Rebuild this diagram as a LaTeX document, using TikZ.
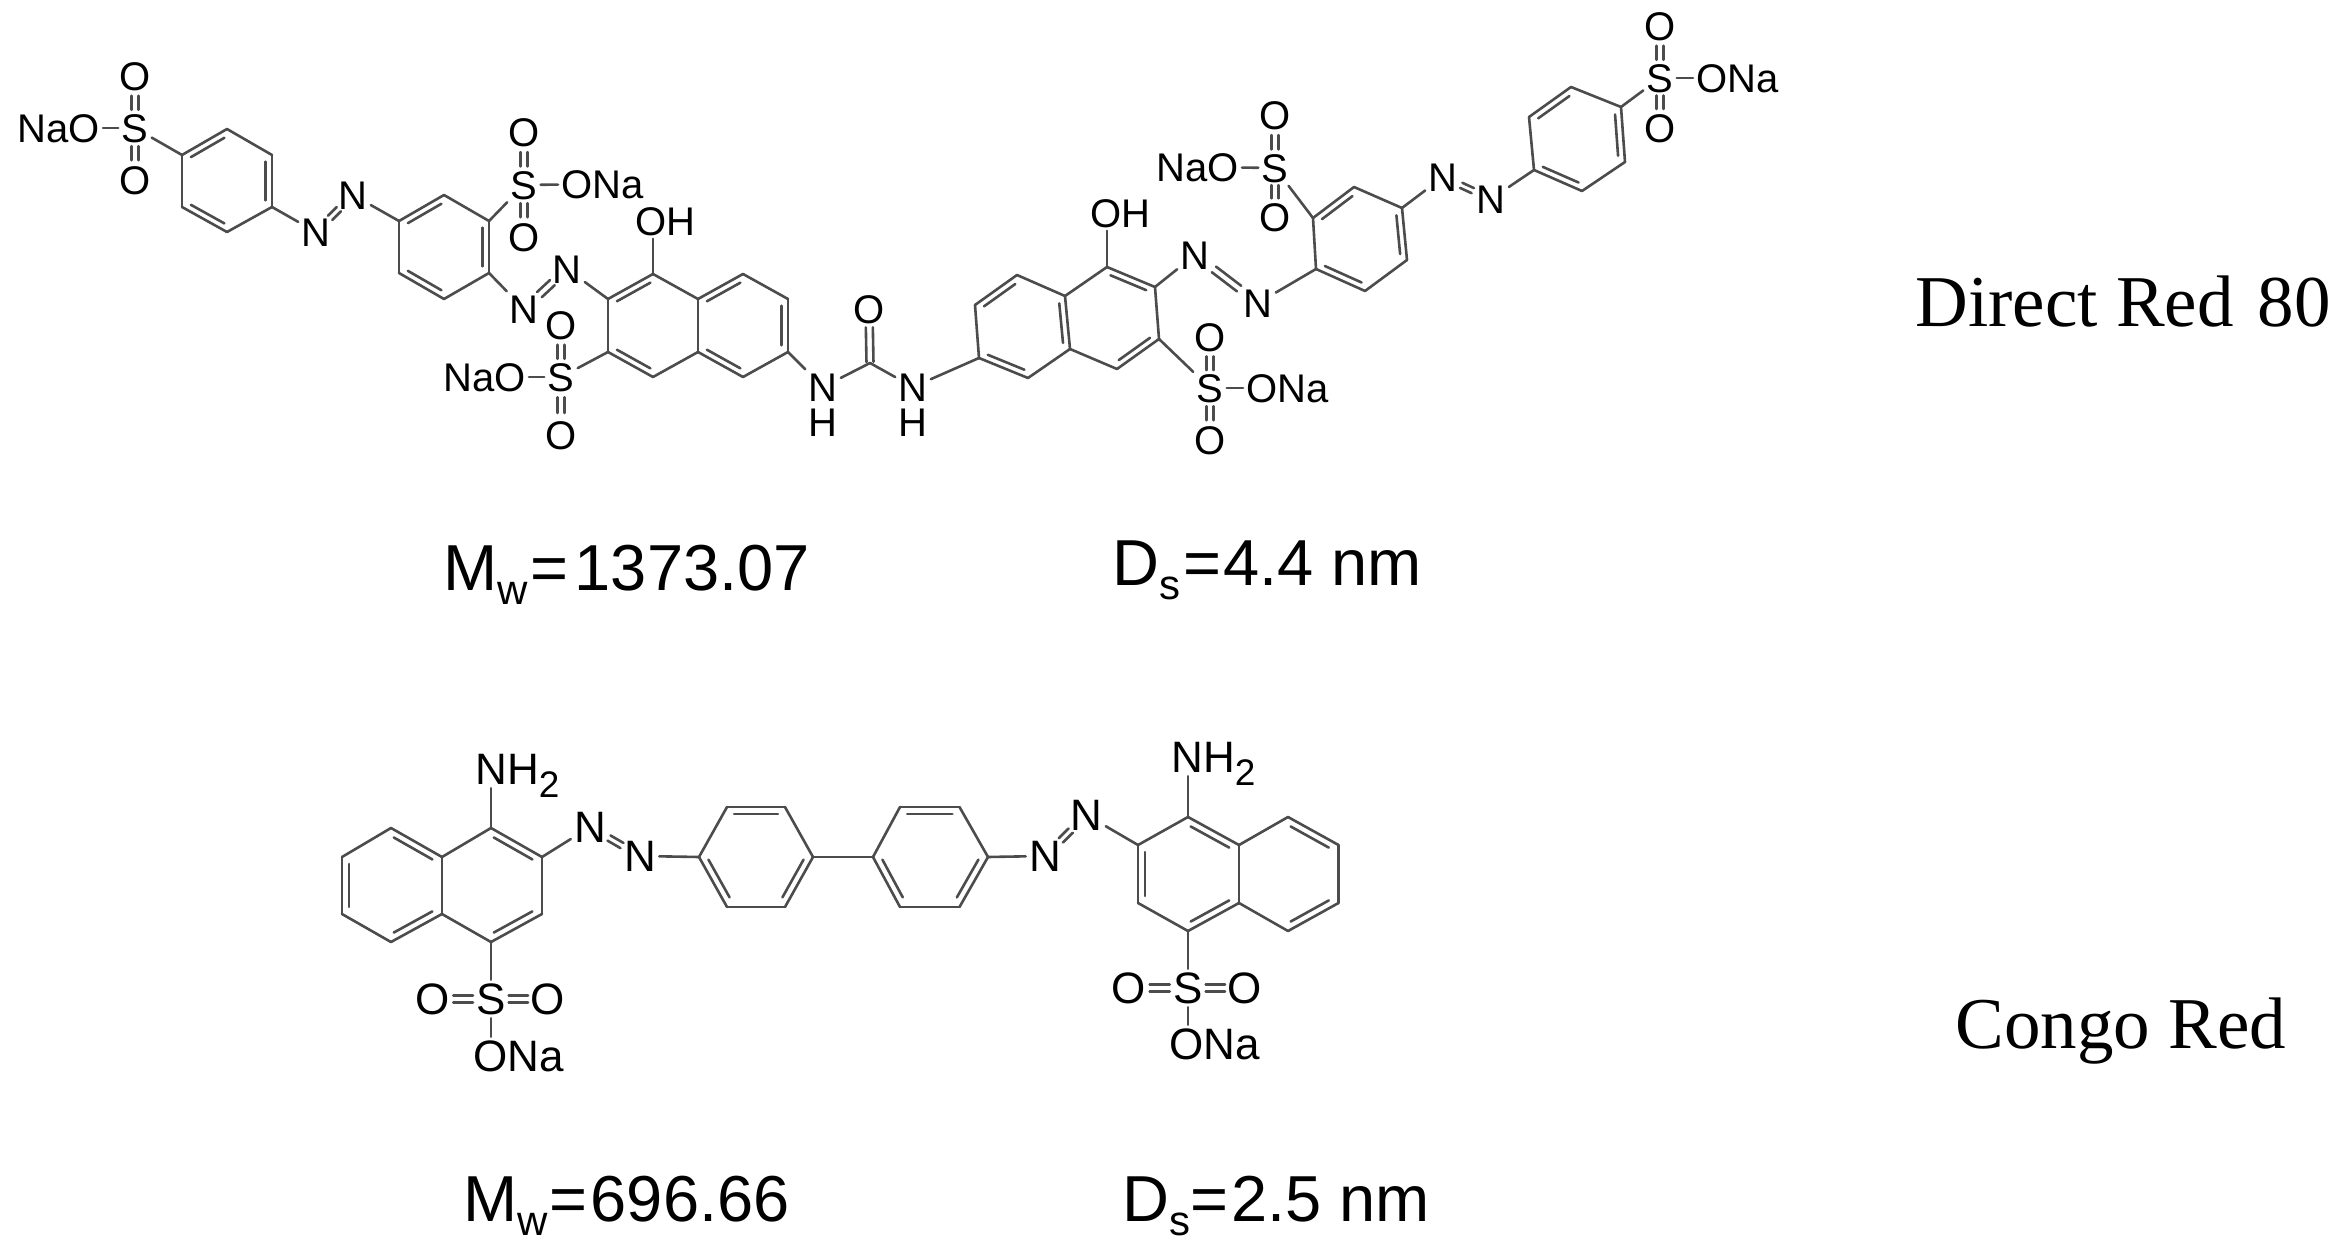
\documentclass[tikz,border=0pt]{standalone}
\usepackage{fontspec}
\setmainfont{Liberation Sans}
\newfontfamily\serifname{Liberation Serif}
\usetikzlibrary{calc}
\definecolor{bondgray}{HTML}{4C4C4C}
\tikzset{
  bond/.style={draw=bondgray,line width=1.3pt,line cap=round,line join=round},
  innerbond/.style={bond,shorten >=1.5pt,shorten <=1.5pt},
  atom/.style={inner sep=1.5pt,text height=14.4pt,text depth=0pt,font=\fontsize{20}{20}\selectfont,text=black},
  hatom/.style={atom,inner sep=0pt},
  catom/.style={inner sep=1.5pt,text height=15.8pt,text depth=0pt,font=\fontsize{22}{22}\selectfont,text=black},
  bigtext/.style={inner sep=0pt,anchor=base west,font=\fontsize{32.5}{32.5}\selectfont,text=black},
  nametext/.style={inner sep=0pt,anchor=base west,font=\serifname\fontsize{36.5}{36.5}\selectfont,text=black}
}
\newcommand\sgl[2]{\draw[bond] (#1) -- (#2);}
\newcommand\dbl[3]{\draw[bond] (#1) -- (#2); \draw[innerbond] ($(#1)!0.14!(#3)$) -- ($(#2)!0.14!(#3)$);}
\newcommand\twoline[5]{%
  \draw[bond] ($(#1)!#3!(#2)!#5!90:(#2)$) -- ($(#1)!#4!(#2)!#5!90:(#2)$);%
  \draw[bond] ($(#1)!#3!(#2)!#5!-90:(#2)$) -- ($(#1)!#4!(#2)!#5!-90:(#2)$);}
\newcommand\sox[2]{\twoline{#1}{#2}{.35}{.62}{1.75pt}}
\newcommand\soh[2]{\twoline{#1}{#2}{.31}{.65}{1.75pt}}
\newcommand\twosub[1]{\raisebox{-6.5pt}{\fontsize{18.5}{18.5}\selectfont #1}}
\newcommand\bigsub[1]{\raisebox{-7pt}{\fontsize{21}{21}\selectfont #1}}
\begin{document}
\begin{tikzpicture}[x=0.5pt,y=-0.5pt]
\useasboundingbox (0,0) rectangle (2330,1241);
% ---------- Direct Red 80 : atoms
\node[atom] (s1) at (135,128) {S};
\node[atom] (o1a) at (135,76) {O};
\node[atom] (o1b) at (135,180) {O};
\node[atom,anchor=east] (na1) at (103,128) {NaO};
\node[atom] (n1) at (316,232) {N};
\node[atom] (n2) at (353,195) {N};
\node[atom] (s2) at (524,185) {S};
\node[atom] (o2a) at (524,132) {O};
\node[atom] (o2b) at (524,237) {O};
\node[atom,anchor=west] (na2) at (558,184) {ONa};
\node[atom] (n3) at (524,309) {N};
\node[atom] (n4) at (567,269) {N};
\node[atom,anchor=west] (oh1) at (632,221) {OH};
\node[atom] (s3) at (561,377) {S};
\node[atom] (o3a) at (561,325) {O};
\node[atom] (o3b) at (561,435) {O};
\node[atom,anchor=east] (na3) at (529,377) {NaO};
\node[atom] (nu1) at (823,387) {N};
\node[hatom] (hu1) at (823,422) {H};
\node[atom] (ou) at (869,309) {O};
\node[atom] (nu2) at (913,387) {N};
\node[hatom] (hu2) at (913,422) {H};
\node[atom,anchor=west] (oh2) at (1087,213) {OH};
\node[atom] (n5) at (1195,255) {N};
\node[atom] (n6) at (1258,303) {N};
\node[atom] (s4) at (1210,388) {S};
\node[atom] (o4a) at (1210,337) {O};
\node[atom] (o4b) at (1210,440) {O};
\node[atom,anchor=west] (na4) at (1243,388) {ONa};
\node[atom] (s5) at (1275,168) {S};
\node[atom] (o5a) at (1275,115) {O};
\node[atom] (o5b) at (1275,217) {O};
\node[atom,anchor=east] (na5) at (1242,167) {NaO};
\node[atom] (n7) at (1443,177) {N};
\node[atom] (n8) at (1491,199) {N};
\node[atom] (s6) at (1660,78) {S};
\node[atom] (o6a) at (1660,26) {O};
\node[atom] (o6b) at (1660,128) {O};
\node[atom,anchor=west] (na6) at (1693,78) {ONa};
% ring vertices
\coordinate (a1) at (182,155); \coordinate (a2) at (227,129); \coordinate (a3) at (272,155);
\coordinate (a4) at (272,207); \coordinate (a5) at (227,232); \coordinate (a6) at (182,207);
\coordinate (ac) at (227,181);
\coordinate (b1) at (399,221); \coordinate (b2) at (444,195); \coordinate (b3) at (489,221);
\coordinate (b4) at (489,273); \coordinate (b5) at (444,299); \coordinate (b6) at (399,273);
\coordinate (bc) at (444,247);
\coordinate (c1) at (608,299); \coordinate (c2) at (653,274); \coordinate (c3) at (698,299);
\coordinate (c4) at (743,274); \coordinate (c5) at (788,299); \coordinate (c6) at (788,352);
\coordinate (c7) at (743,377); \coordinate (c8) at (698,352); \coordinate (c9) at (653,377);
\coordinate (c10) at (608,352);
\coordinate (cc1) at (653,325.5); \coordinate (cc2) at (743,325.5);
\coordinate (cu) at (870,363);
\coordinate (d1) at (979,358); \coordinate (d2) at (975,305); \coordinate (d3) at (1017,275);
\coordinate (d4) at (1065,296); \coordinate (d5) at (1070,349); \coordinate (d6) at (1028,378);
\coordinate (d7) at (1107,267); \coordinate (d8) at (1155,287); \coordinate (d9) at (1159,339);
\coordinate (d10) at (1117,369);
\coordinate (dc1) at (1022,327); \coordinate (dc2) at (1112,318);
\coordinate (e1) at (1313,218); \coordinate (e2) at (1354,187); \coordinate (e3) at (1402,208);
\coordinate (e4) at (1407,260); \coordinate (e5) at (1365,291); \coordinate (e6) at (1316,269);
\coordinate (ec) at (1360,239);
\coordinate (f1) at (1534,170); \coordinate (f2) at (1529,117); \coordinate (f3) at (1571,87);
\coordinate (f4) at (1621,107); \coordinate (f5) at (1625,162); \coordinate (f6) at (1582,191);
\coordinate (fc) at (1577,139);
% ring A
\dbl{a1}{a2}{ac} \sgl{a2}{a3} \dbl{a3}{a4}{ac} \sgl{a4}{a5} \dbl{a5}{a6}{ac} \sgl{a6}{a1}
\sgl{s1}{a1} \sgl{na1}{s1} \sox{s1}{o1a} \sox{s1}{o1b}
\sgl{a4}{n1} \twoline{n1}{n2}{.38}{.62}{1.5pt} \sgl{n2}{b1}
% ring B
\dbl{b1}{b2}{bc} \sgl{b2}{b3} \dbl{b3}{b4}{bc} \sgl{b4}{b5} \dbl{b5}{b6}{bc} \sgl{b6}{b1}
\sgl{b3}{s2} \sgl{s2}{na2} \sox{s2}{o2a} \sox{s2}{o2b}
\sgl{b4}{n3} \twoline{n3}{n4}{.36}{.66}{1.75pt} \sgl{n4}{c1}
% naphthalene left
\dbl{c1}{c2}{cc1} \sgl{c2}{c3} \dbl{c3}{c4}{cc2} \sgl{c4}{c5} \dbl{c5}{c6}{cc2}
\sgl{c6}{c7} \dbl{c7}{c8}{cc2} \sgl{c8}{c9} \dbl{c9}{c10}{cc1} \sgl{c10}{c1} \sgl{c3}{c8}
\draw[bond] (c2) -- (c2 |- oh1.south);
\sgl{c10}{s3} \sgl{na3}{s3} \sox{s3}{o3a} \sox{s3}{o3b}
% urea
\sgl{c6}{nu1} \sgl{nu1}{cu} \sgl{cu}{nu2} \sgl{nu2}{d1}
\twoline{cu}{ou}{.02}{.66}{1.75pt}
% naphthalene right
\dbl{d1}{d6}{dc1} \sgl{d1}{d2} \dbl{d2}{d3}{dc1} \sgl{d3}{d4} \dbl{d4}{d5}{dc1} \sgl{d5}{d6}
\sgl{d4}{d7} \dbl{d7}{d8}{dc2} \sgl{d8}{d9} \dbl{d9}{d10}{dc2} \sgl{d10}{d5}
\draw[bond] (d7) -- (d7 |- oh2.south);
\sgl{d9}{s4} \sgl{s4}{na4} \sox{s4}{o4a} \sox{s4}{o4b}
\sgl{d8}{n5} \twoline{n5}{n6}{.3}{.7}{1.75pt} \sgl{n6}{e6}
% ring C
\dbl{e1}{e2}{ec} \sgl{e2}{e3} \dbl{e3}{e4}{ec} \sgl{e4}{e5} \dbl{e5}{e6}{ec} \sgl{e6}{e1}
\sgl{e1}{s5} \sgl{na5}{s5} \sox{s5}{o5a} \sox{s5}{o5b}
\sgl{e3}{n7} \twoline{n7}{n8}{.38}{.62}{1.4pt} \sgl{n8}{f1}
% ring D
\sgl{f1}{f2} \dbl{f2}{f3}{fc} \sgl{f3}{f4} \dbl{f4}{f5}{fc} \sgl{f5}{f6} \dbl{f6}{f1}{fc}
\sgl{f4}{s6} \sgl{s6}{na6} \sox{s6}{o6a} \sox{s6}{o6b}
% ---------- Congo Red : atoms
\node[catom,anchor=west] (nh2l) at (472,769) {NH\twosub{2}};
\node[catom] (n9) at (590,827) {N};
\node[catom] (n10) at (640,856) {N};
\node[catom] (sl) at (491,999) {S};
\node[catom] (ol1) at (433,999) {O};
\node[catom] (ol2) at (548,999) {O};
\node[catom,anchor=west] (nal) at (470,1056) {ONa};
\node[catom] (n11) at (1045,856) {N};
\node[catom] (n12) at (1086.5,815) {N};
\node[catom,anchor=west] (nh2r) at (1168,757) {NH\twosub{2}};
\node[catom] (sr) at (1188,988) {S};
\node[catom] (or1) at (1129,988) {O};
\node[catom] (or2) at (1245,988) {O};
\node[catom,anchor=west] (nar) at (1166,1044) {ONa};
\coordinate (g1) at (342,857); \coordinate (g2) at (391,828); \coordinate (g3) at (442,857);
\coordinate (g4) at (491,828); \coordinate (g5) at (542,857); \coordinate (g6) at (542,914);
\coordinate (g7) at (491,942); \coordinate (g8) at (442,914); \coordinate (g9) at (391,942);
\coordinate (g10) at (342,914);
\coordinate (gc1) at (392,885); \coordinate (gc2) at (492,885);
\coordinate (h1) at (699,857); \coordinate (h2) at (727,807); \coordinate (h3) at (785,807);
\coordinate (h4) at (813,857); \coordinate (h5) at (785,907); \coordinate (h6) at (727,907);
\coordinate (hc) at (756,857);
\coordinate (i1) at (873,857); \coordinate (i2) at (900,807); \coordinate (i3) at (959.5,807);
\coordinate (i4) at (988,857); \coordinate (i5) at (959.5,907); \coordinate (i6) at (900,907);
\coordinate (ic) at (930,857);
\coordinate (j1) at (1138,845); \coordinate (j2) at (1188,817); \coordinate (j3) at (1239,845);
\coordinate (j4) at (1288,817); \coordinate (j5) at (1338.5,845); \coordinate (j6) at (1338.5,903);
\coordinate (j7) at (1288,931); \coordinate (j8) at (1239,903); \coordinate (j9) at (1188,931);
\coordinate (j10) at (1138,903);
\coordinate (jc1) at (1188,874); \coordinate (jc2) at (1288,874);
% naphthalene left
\sgl{g1}{g2} \dbl{g2}{g3}{gc1} \sgl{g3}{g8} \dbl{g8}{g9}{gc1} \sgl{g9}{g10} \dbl{g10}{g1}{gc1}
\sgl{g3}{g4} \dbl{g4}{g5}{gc2} \sgl{g5}{g6} \dbl{g6}{g7}{gc2} \sgl{g7}{g8}
\draw[bond] (g4) -- (g4 |- nh2l.south);
\sgl{g7}{sl} \soh{sl}{ol1} \soh{sl}{ol2}
\draw[bond] (sl) -- (sl |- nal.north);
\sgl{g5}{n9} \twoline{n9}{n10}{.38}{.64}{1.5pt} \sgl{n10}{h1}
% biphenyl
\sgl{h1}{h2} \dbl{h2}{h3}{hc} \sgl{h3}{h4} \dbl{h4}{h5}{hc} \sgl{h5}{h6} \dbl{h6}{h1}{hc}
\sgl{h4}{i1}
\sgl{i1}{i2} \dbl{i2}{i3}{ic} \sgl{i3}{i4} \dbl{i4}{i5}{ic} \sgl{i5}{i6} \dbl{i6}{i1}{ic}
\sgl{i4}{n11} \twoline{n11}{n12}{.38}{.62}{1.5pt} \sgl{n12}{j1}
% naphthalene right
\dbl{j1}{j10}{jc1} \sgl{j1}{j2} \dbl{j2}{j3}{jc1} \sgl{j3}{j8} \dbl{j8}{j9}{jc1} \sgl{j9}{j10}
\sgl{j3}{j4} \dbl{j4}{j5}{jc2} \sgl{j5}{j6} \dbl{j6}{j7}{jc2} \sgl{j7}{j8}
\draw[bond] (j2) -- (j2 |- nh2r.south);
\sgl{j9}{sr} \soh{sr}{or1} \soh{sr}{or2}
\draw[bond] (sr) -- (sr |- nar.north);
% ---------- captions
\node[bigtext] (mw1) at (443,590) {M\bigsub{w}\hspace{1.5pt}=\hspace{3pt}1373.07};
\node[bigtext] (ds1) at (1112,585) {D\bigsub{s}\hspace{1.5pt}=\hspace{1pt}4.4 nm};
\node[bigtext] (mw2) at (463,1221) {M\bigsub{w}\hspace{1pt}=\hspace{1.5pt}696.66};
\node[bigtext] (ds2) at (1122,1221) {D\bigsub{s}=\hspace{1.5pt}2.5 nm};
\node[nametext] (dr) at (1915,327) {Direct Red\hspace{3pt} 80};
\node[nametext] (cr) at (1955,1048) {Congo Red};
\end{tikzpicture}
\end{document}
